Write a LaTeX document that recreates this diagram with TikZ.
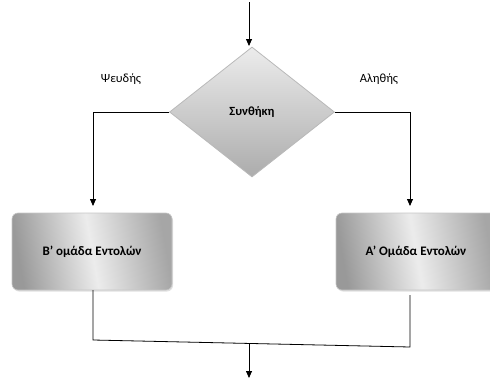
\documentclass[tikz,border=0pt]{standalone}
\usepackage{fontspec}
\setmainfont{Carlito}
\usetikzlibrary{shapes.geometric,arrows.meta,shadows}
\tikzset{
  conn/.style={draw=black, line width=0.8pt},
  arr/.style={conn, -{Triangle[length=7pt,width=6pt]}},
  cond/.style={diamond, inner sep=0pt, minimum width=165pt, minimum height=130pt, aspect=1.27,
    draw=gray!55, line width=0.8pt, top color=gray!15, bottom color=gray!65,
    font=\fontsize{12.5}{14}\selectfont\bfseries},
  block/.style={rectangle, rounded corners=6pt, minimum width=160pt, minimum height=77pt,
    draw=gray!45, line width=0.6pt, left color=gray!80, right color=gray!70, middle color=gray!15,
    shading angle=100, font=\fontsize{13}{15}\selectfont\bfseries,
    drop shadow={shadow xshift=1pt, shadow yshift=-1.5pt, fill=gray!40, opacity=0.6}},
  lbl/.style={font=\fontsize{12.5}{14}\selectfont}
}
\begin{document}
\begin{tikzpicture}[x=1pt,y=-1pt]
\useasboundingbox (0,0) rectangle (490,380);
\node[cond] (c) at (252,112) {Συνθήκη};
\coordinate (top) at (249,2);
\coordinate (ctop) at (249,46);
\draw[arr] (top) -- (ctop);
\node[block] (b) at (92,251.5) {Β’ ομάδα Εντολών};
\node[block] (a) at (416,251.5) {Α’ Ομάδα Εντολών};
\node[lbl] (f) at (121,79) {Ψευδής};
\node[lbl] (t) at (379,79) {Αληθής};
\coordinate (bin) at (93,206);
\coordinate (ain) at (410,206);
\draw[arr] (c.west) -| (bin);
\draw[arr] (c.east) -| (ain);
\coordinate (bl) at (93,340);
\coordinate (br) at (410,347);
\coordinate (bm) at (249,343);
\coordinate (bot) at (249,378);
\draw[conn] (93,290) -- (bl) -- (br) -- (410,295);
\draw[arr] (bm) -- (bot);
\end{tikzpicture}
\end{document}
